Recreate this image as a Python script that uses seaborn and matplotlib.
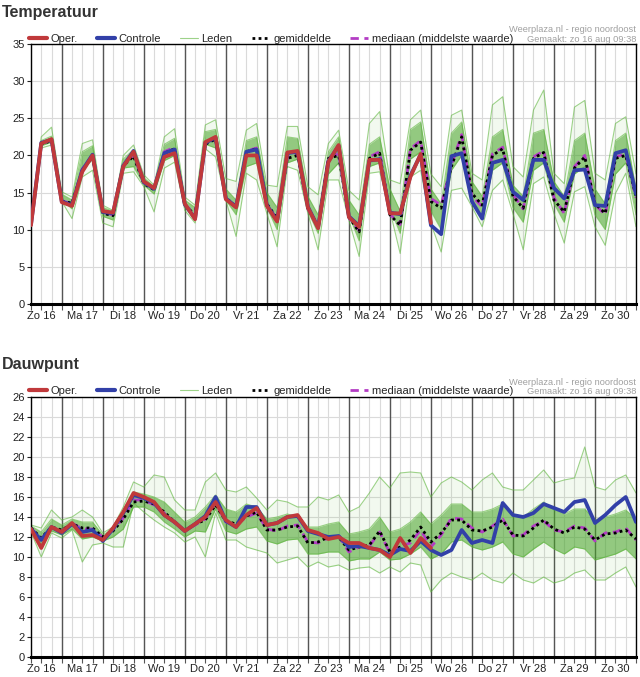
import numpy as np
import pandas as pd
import matplotlib
matplotlib.use("Agg")
import matplotlib.pyplot as plt
from matplotlib.lines import Line2D
import seaborn as sns

# ---------------- data ----------------
day_labels = ["Zo 16", "Ma 17", "Di 18", "Wo 19", "Do 20", "Vr 21", "Za 22", "Zo 23",
              "Ma 24", "Di 25", "Wo 26", "Do 27", "Vr 28", "Za 29", "Zo 30"]
# forecast steps: every 6 h from Zo 16 06:00 (hour 6) to Ma 31 00:00 (hour 360)
hours = list(range(6, 361, 6))
NA = float("nan")

temp_oper = [10.6, 21.6, 22.2, 13.7, 13.2, 17.8, 20.0, 12.5, 12.3, 18.5,
             20.5, 16.5, 15.6, 19.8, 20.3, 13.5, 11.4, 21.8, 22.5, 14.1,
             13.0, 20.0, 20.0, 13.2, 11.1, 20.4, 20.6, 13.0, 10.2, 19.1,
             21.4, 11.7, 10.4, 19.4, 19.4, 12.2, 12.2, 17.1, 20.2, 10.9] + [NA] * 20
temp_ctrl = [10.7, 21.7, 22.1, 13.8, 13.3, 18.0, 20.1, 12.4, 12.2, 18.6,
             20.6, 16.4, 15.5, 20.3, 20.8, 13.4, 11.5, 21.7, 22.4, 14.2,
             13.1, 20.5, 20.8, 13.3, 11.2, 20.3, 20.5, 13.1, 10.3, 19.2,
             21.3, 11.8, 10.5, 19.3, 19.5, 12.3, 12.1, 17.3, 20.1, 10.6,
             9.4, 19.9, 20.3, 13.8, 11.5, 19.0, 19.4, 15.1, 14.0, 19.4,
             19.4, 15.6, 14.2, 18.0, 18.1, 13.3, 13.2, 20.3, 20.7, 14.8]
temp_mean = [10.8, 21.5, 22.0, 13.8, 13.6, 18.0, 19.8, 12.2, 11.9, 18.6,
             19.9, 16.2, 15.4, 20.3, 20.9, 13.3, 12.0, 21.5, 22.2, 14.3,
             13.1, 20.5, 20.9, 13.5, 11.5, 19.6, 20.0, 12.9, 10.4, 19.6,
             20.0, 11.7, 9.7, 19.6, 20.3, 12.0, 10.6, 20.7, 21.8, 13.8,
             12.9, 18.5, 22.5, 14.9, 13.3, 20.0, 20.9, 14.5, 12.9, 19.6,
             20.4, 14.0, 12.4, 18.3, 19.8, 13.5, 12.2, 19.6, 20.0, 14.5]
temp_median = [10.8, 21.6, 22.1, 13.9, 13.5, 18.2, 20.0, 12.3, 12.0, 18.7,
               20.1, 16.3, 15.5, 20.5, 21.1, 13.4, 12.1, 21.7, 22.4, 14.2,
               13.0, 20.6, 21.0, 13.4, 11.4, 19.8, 20.2, 12.8, 10.3, 19.8,
               20.2, 11.6, 9.9, 19.8, 20.5, 12.1, 10.7, 20.9, 22.0, 14.2,
               13.3, 18.7, 22.8, 14.5, 13.1, 20.2, 21.1, 14.8, 12.8, 19.8,
               20.6, 14.3, 12.2, 18.5, 20.0, 13.4, 12.0, 19.8, 20.2, 14.3]
temp_hi = [11.5, 22.5, 23.8, 15.1, 14.4, 21.6, 22.1, 13.3, 12.6, 20.0,
           21.4, 17.4, 16.0, 22.5, 23.6, 14.4, 13.3, 24.1, 24.8, 16.9,
           16.5, 23.4, 24.3, 16.0, 15.8, 23.9, 23.9, 15.8, 14.7, 21.6,
           23.4, 15.3, 14.0, 24.3, 25.9, 16.7, 16.2, 24.8, 26.1, 17.5,
           15.8, 25.4, 26.1, 17.6, 16.7, 26.8, 27.9, 18.5, 17.1, 26.1,
           28.8, 17.6, 16.2, 26.5, 27.4, 17.6, 16.7, 24.3, 25.2, 17.5]
temp_up = [11.0, 22.0, 22.6, 14.8, 14.0, 20.5, 21.3, 13.0, 12.5, 19.5,
           20.8, 17.0, 15.8, 21.5, 22.3, 14.0, 13.0, 23.2, 23.5, 15.5,
           14.0, 22.0, 22.5, 15.0, 13.0, 22.5, 22.3, 14.5, 12.0, 20.5,
           22.5, 14.0, 12.0, 21.5, 22.5, 15.5, 12.5, 23.5, 24.5, 15.5,
           13.5, 23.0, 24.5, 16.5, 14.5, 22.5, 23.5, 16.0, 14.5, 23.0,
           23.5, 16.5, 14.5, 22.0, 23.0, 15.5, 13.5, 22.0, 23.0, 15.5]
temp_dn = [10.6, 21.3, 21.8, 14.0, 12.8, 18.0, 19.5, 11.8, 11.3, 18.3,
           18.5, 16.0, 14.8, 19.3, 20.0, 13.0, 11.5, 21.5, 21.0, 14.0,
           12.0, 18.5, 19.0, 13.0, 10.0, 19.0, 19.5, 12.5, 9.5, 17.5,
           19.0, 12.0, 8.5, 18.5, 19.0, 13.0, 9.5, 19.5, 20.5, 12.5,
           10.0, 18.0, 20.0, 14.0, 11.5, 18.0, 19.0, 13.0, 11.0, 18.0,
           19.0, 13.5, 11.0, 17.5, 18.5, 12.0, 10.0, 17.5, 19.0, 12.0]
temp_lo = [10.4, 21.0, 21.4, 13.8, 11.5, 17.1, 18.0, 10.9, 10.4, 17.6,
           17.8, 15.8, 12.4, 18.3, 19.1, 12.6, 10.9, 20.9, 19.8, 14.0,
           9.1, 17.6, 16.7, 12.2, 7.7, 18.5, 18.0, 12.2, 7.3, 16.7,
           16.7, 11.3, 6.4, 17.6, 17.8, 12.6, 6.8, 17.1, 18.0, 10.8,
           7.0, 15.3, 15.6, 13.1, 10.4, 15.3, 16.7, 12.2, 7.3, 16.2,
           17.1, 12.2, 8.2, 15.1, 15.8, 10.4, 7.9, 14.9, 17.6, 10.4]

dew_oper = [12.8, 10.9, 13.0, 12.5, 13.4, 12.1, 12.2, 11.7, 12.9, 14.5,
            16.4, 16.0, 15.5, 14.2, 13.5, 12.6, 13.3, 14.0, 15.5, 13.7,
            13.0, 14.2, 14.9, 13.2, 13.4, 14.0, 14.2, 12.7, 12.4, 11.8,
            12.0, 11.4, 11.4, 10.9, 10.7, 10.0, 11.9, 10.4, 11.9, 10.9] + [NA] * 20
dew_ctrl = [12.8, 11.7, 13.0, 12.4, 13.3, 12.5, 12.7, 11.6, 12.8, 14.4,
            16.2, 15.9, 15.4, 14.2, 13.5, 12.6, 13.3, 14.1, 16.0, 13.6,
            13.0, 15.0, 15.0, 13.2, 13.4, 14.0, 14.1, 12.6, 12.3, 12.0,
            12.1, 11.0, 11.1, 10.9, 10.7, 10.2, 10.8, 10.6, 11.6, 10.7,
            10.2, 10.7, 12.7, 11.4, 11.7, 11.4, 15.4, 14.2, 14.0, 14.4,
            15.3, 14.9, 14.5, 15.5, 15.7, 13.4, 14.2, 15.2, 16.0, 13.5]
dew_mean = [12.9, 11.9, 13.0, 12.7, 13.3, 12.9, 12.9, 12.0, 12.6, 13.8,
            15.5, 15.6, 15.3, 14.5, 13.5, 12.6, 13.3, 13.7, 15.2, 13.6,
            13.3, 14.1, 14.5, 12.7, 12.7, 13.0, 13.1, 11.4, 11.5, 12.0,
            12.0, 10.7, 11.0, 11.2, 12.6, 10.5, 11.0, 11.7, 13.0, 11.5,
            12.4, 13.7, 13.7, 12.7, 12.6, 13.0, 13.7, 12.2, 12.1, 12.9,
            13.7, 12.8, 12.4, 13.0, 12.8, 11.7, 12.3, 12.4, 12.7, 11.8]
dew_median = [12.9, 11.8, 13.0, 12.6, 13.4, 12.8, 12.8, 12.0, 12.7, 13.9,
              15.7, 15.7, 15.2, 14.4, 13.4, 12.6, 13.2, 13.8, 15.4, 13.5,
              13.2, 14.0, 14.4, 12.8, 12.6, 13.1, 13.2, 11.5, 11.4, 11.9,
              12.1, 10.5, 11.0, 11.1, 12.5, 10.4, 11.1, 11.4, 12.7, 11.0,
              12.2, 13.9, 13.8, 12.9, 12.5, 13.1, 13.8, 12.1, 12.2, 13.1,
              13.6, 12.7, 12.5, 13.1, 12.9, 11.6, 12.4, 12.5, 12.9, 11.7]
dew_hi = [13.2, 12.9, 14.7, 13.7, 14.0, 14.7, 14.0, 12.4, 13.0, 15.0,
          17.5, 17.0, 18.2, 18.0, 15.7, 14.7, 14.7, 17.5, 18.4, 16.7,
          16.5, 17.0, 15.9, 14.7, 15.7, 15.5, 15.0, 15.0, 16.0, 15.7,
          16.2, 14.5, 15.0, 16.4, 18.0, 16.9, 18.4, 18.5, 18.4, 16.0,
          17.4, 18.0, 17.5, 16.7, 17.7, 18.4, 17.0, 16.7, 16.7, 17.7,
          18.7, 17.4, 17.7, 17.9, 21.0, 17.0, 16.7, 17.7, 18.2, 16.4]
dew_up = [13.1, 12.5, 13.8, 13.2, 13.8, 13.5, 13.5, 12.2, 12.8, 14.3,
          16.5, 16.3, 16.0, 15.5, 14.5, 13.5, 14.0, 15.0, 16.2, 14.8,
          14.5, 15.3, 15.0, 13.8, 14.0, 14.3, 14.0, 13.0, 13.0, 13.3,
          13.5, 12.3, 12.5, 12.8, 14.0, 12.5, 12.8, 13.5, 14.5, 13.3,
          14.2, 15.3, 15.3, 14.5, 14.5, 14.8, 15.3, 14.0, 14.0, 14.8,
          15.5, 14.7, 14.3, 14.8, 14.8, 13.7, 14.0, 14.3, 14.7, 13.8]
dew_dn = [12.6, 11.2, 12.6, 12.2, 12.8, 11.8, 12.0, 11.6, 12.0, 12.8,
          15.0, 15.0, 14.5, 13.5, 12.8, 12.0, 12.6, 12.5, 14.8, 12.6,
          12.3, 12.8, 13.0, 11.6, 11.3, 11.7, 11.8, 10.3, 10.3, 10.5,
          10.5, 9.6, 9.8, 9.8, 10.5, 9.7, 9.8, 10.3, 11.0, 9.8,
          10.3, 11.5, 11.7, 11.0, 10.7, 11.0, 11.5, 10.3, 10.0, 10.8,
          11.5, 10.8, 10.3, 11.0, 10.8, 9.7, 10.0, 10.3, 10.8, 9.8]
dew_lo = [12.5, 10.0, 12.4, 11.9, 12.7, 9.5, 11.2, 11.4, 11.0, 11.0,
          15.4, 14.5, 13.7, 13.0, 12.4, 11.5, 12.0, 10.0, 14.4, 11.7,
          11.7, 11.0, 10.7, 10.4, 9.4, 9.7, 10.0, 9.0, 9.5, 9.0,
          9.2, 8.7, 8.9, 9.0, 8.4, 9.0, 8.5, 9.4, 9.2, 6.5,
          7.7, 8.4, 8.0, 7.7, 8.4, 7.7, 7.4, 8.4, 7.7, 7.4,
          8.0, 7.4, 7.7, 8.4, 8.7, 7.7, 7.7, 8.4, 9.0, 7.0]

# ---------------- style ----------------
sns.set_theme(style="white")
plt.rcParams["font.family"] = ["Liberation Sans", "DejaVu Sans"]

C_OPER = "#c0393b"
C_CTRL = "#3240a8"
C_MEMB = "#5cb53a"
C_CORE = "#45a326"
C_MED = "#b33cc4"

fig = plt.figure(figsize=(6.4, 6.77), dpi=100)
W, H = 640.0, 677.0


def panel(ax, oper, ctrl, mean, med, hi, up, dn, lo, ymax, ystep):
    x = np.array(hours, dtype=float)
    ax.set_xlim(6, 360)
    ax.set_ylim(0, ymax)
    ax.xaxis.remove_overlapping_locs = False
    ax.set_xticks(list(range(6, 361, 6)), minor=True)
    ax.set_xticks(list(range(12, 360, 24)))
    ax.set_xticklabels(day_labels)
    ax.set_yticks(list(range(0, ymax + 1, ystep)))
    ax.grid(which="minor", axis="x", color="#dadada", lw=0.8, zorder=0)
    ax.grid(which="major", axis="x", visible=False)
    ax.grid(which="major", axis="y", color="#dadada", lw=0.8, zorder=0)
    ax.vlines(list(range(24, 360, 24)), 0, ymax, color="#555555", lw=1.0, zorder=0.6)

    # ensemble members
    ax.fill_between(x, lo, hi, color=C_MEMB, alpha=0.08, lw=0, zorder=1)
    ax.fill_between(x, dn, up, color=C_CORE, alpha=0.55, lw=0, zorder=1.1)
    mem = pd.DataFrame({
        "hour": np.tile(x, 4),
        "value": np.concatenate([hi, up, dn, lo]),
        "member": np.repeat(["hi", "up", "dn", "lo"], len(x)),
    })
    sns.lineplot(data=mem, x="hour", y="value", units="member", estimator=None,
                 color=C_MEMB, lw=0.8, alpha=0.6, ax=ax, legend=False, zorder=1.2)

    df = pd.DataFrame({"hour": x, "oper": oper, "ctrl": ctrl, "mean": mean, "med": med})
    sns.lineplot(data=df, x="hour", y="med", color=C_MED, lw=2.0, ax=ax,
                 zorder=2).lines[-1].set_dashes([3, 2])
    sns.lineplot(data=df, x="hour", y="mean", color="black", lw=2.0, ax=ax,
                 zorder=3).lines[-1].set_dashes([1, 1.2])
    sns.lineplot(data=df, x="hour", y="ctrl", color=C_CTRL, lw=2.7, ax=ax, zorder=4)
    sns.lineplot(data=df.dropna(subset=["oper"]), x="hour", y="oper", color=C_OPER, lw=2.7,
                 ax=ax, zorder=5)

    ax.set_xlabel("")
    ax.set_ylabel("")
    for s in ["top", "right", "left"]:
        ax.spines[s].set_color("black")
        ax.spines[s].set_linewidth(1.0)
    ax.spines["bottom"].set_color("black")
    ax.spines["bottom"].set_linewidth(2.2)
    ax.tick_params(axis="x", which="major", length=0, pad=5, labelsize=8, colors="#222222")
    ax.tick_params(axis="x", which="minor", length=4, width=0.8, color="#555555", bottom=True,
                   direction="out")
    ax.tick_params(axis="y", which="major", length=3, width=0.8, left=True, pad=1.5,
                   labelsize=8, colors="#222222")
    for t in ax.get_yticklines():
        t.set_color("black")


def add_header(top_px, title):
    fig.text(2 / W, 1 - (top_px - 32) / H, title, fontsize=11.5, fontweight="bold",
             color="#333333", ha="left", va="center")
    fig.text(636 / W, 1 - (top_px - 15) / H, "Weerplaza.nl - regio noordoost", fontsize=6.7,
             color="#a0a0a0", ha="right", va="center")
    fig.text(636 / W, 1 - (top_px - 5) / H, "Gemaakt: zo 16 aug 09:38", fontsize=6.7,
             color="#a0a0a0", ha="right", va="center")
    handles = [
        Line2D([], [], color=C_OPER, lw=3),
        Line2D([], [], color=C_CTRL, lw=3),
        Line2D([], [], color=C_MEMB, lw=0.8, alpha=0.6),
        Line2D([], [], color="black", lw=2, dashes=[1, 1.2]),
        Line2D([], [], color=C_MED, lw=2, dashes=[3, 2]),
    ]
    labels = ["Oper.", "Controle", "Leden", "gemiddelde", "mediaan (middelste waarde)"]
    fig.legend(handles, labels, loc="center left",
               bbox_to_anchor=(29 / W, 1 - (top_px - 6) / H), ncol=5, frameon=False,
               fontsize=8, handlelength=1.6, handletextpad=0.35, columnspacing=1.7,
               borderaxespad=0, borderpad=0)


ax1 = fig.add_axes([31 / W, 1 - 304 / H, 605 / W, 260 / H])
panel(ax1, temp_oper, temp_ctrl, temp_mean, temp_median, temp_hi, temp_up, temp_dn, temp_lo, 35, 5)
add_header(44.5, "Temperatuur")

ax2 = fig.add_axes([31 / W, 1 - 657 / H, 605 / W, 260 / H])
panel(ax2, dew_oper, dew_ctrl, dew_mean, dew_median, dew_hi, dew_up, dew_dn, dew_lo, 26, 2)
add_header(397, "Dauwpunt")

fig.savefig("out.png", dpi=100)
